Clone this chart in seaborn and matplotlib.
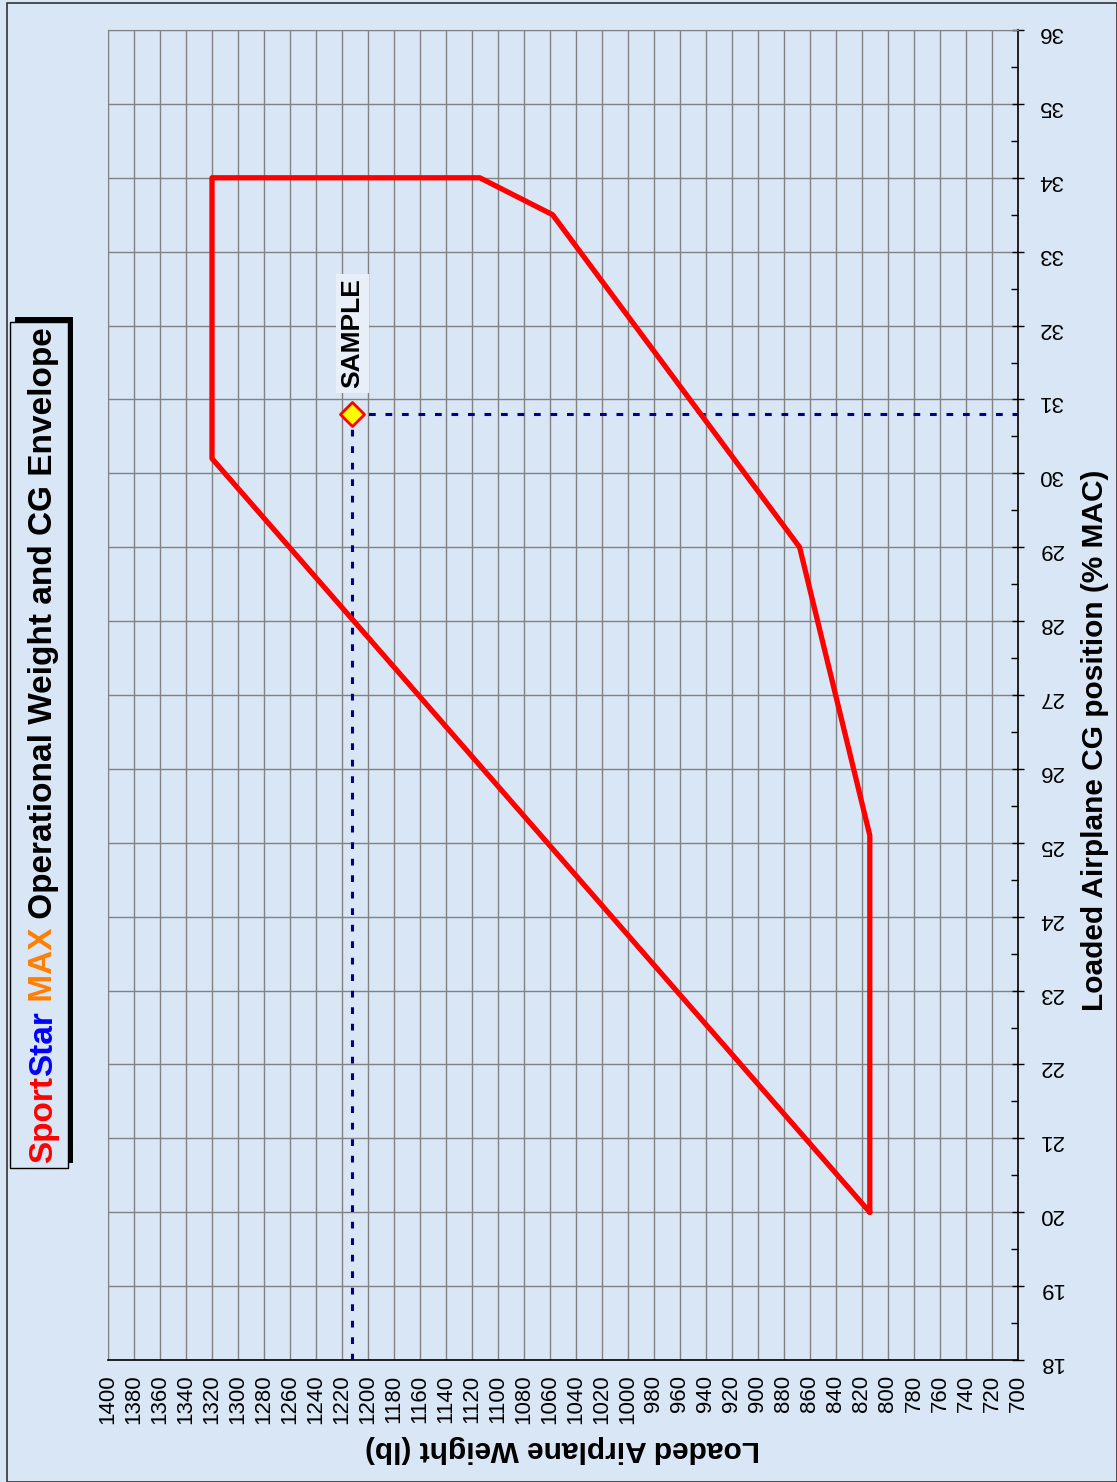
# SportStar MAX weight and CG envelope (chart drawn rotated, like the printed sheet)

import matplotlib
matplotlib.use("Agg")
import matplotlib.pyplot as plt
import matplotlib.patches as patches
from matplotlib.ticker import MultipleLocator
import seaborn as sns
import pandas as pd

# envelope corners: loaded weight (lb) and CG (% MAC)
env_weight = [814, 814, 868, 1058, 1114, 1320, 1320, 814]
env_cg = [20.0, 25.1, 29.0, 33.5, 34.0, 34.0, 30.2, 20.0]

# sample loading point
sample_weight = 1212
sample_cg = 30.8

weight_ticks = list(range(700, 1401, 20))
cg_ticks = list(range(18, 37))

title_parts = ["Sport", "Star", " MAX", " Operational Weight and CG Envelope"]
title_colors = ["#ff0000", "#0000ff", "#ff7f00", "#000000"]

bg = "#d9e6f5"
grid_col = "#828282"

sns.set_style("white")
plt.rcParams["font.family"] = ["Liberation Sans", "DejaVu Sans"]
plt.rcParams["text.color"] = "black"
plt.rcParams["axes.labelcolor"] = "black"
plt.rcParams["xtick.color"] = "black"
plt.rcParams["ytick.color"] = "black"

W, H = 1117, 1482
fig = plt.figure(figsize=(W / 100, H / 100), dpi=100, facecolor=bg)
ax = fig.add_axes([108 / W, 1 - 1360 / H, 910 / W, 1330 / H])
ax.set_facecolor(bg)

env = pd.DataFrame({"weight": env_weight, "cg": env_cg})
sns.lineplot(data=env, x="weight", y="cg", sort=False, estimator=None,
             color="#ff0000", linewidth=3.8, ax=ax, zorder=4)

# dotted guide lines from the sample point to both axes
ax.plot([sample_weight, sample_weight], [18, sample_cg], color="#000080",
        linewidth=2.2, dashes=(2.2, 3.2), zorder=3)
ax.plot([sample_weight, 700], [sample_cg, sample_cg], color="#000080",
        linewidth=2.2, dashes=(2.2, 3.2), zorder=3)
sns.scatterplot(x=[sample_weight], y=[sample_cg], marker="D", s=150,
                color="#ffff00", edgecolor="#ff0000", linewidth=2, ax=ax, zorder=5)
ax.text(sample_weight, sample_cg + 0.35, "SAMPLE", rotation=90, ha="center", va="bottom",
        fontsize=19, fontweight="bold", color="black",
        bbox=dict(facecolor="#e8eff8", edgecolor="none", pad=3), zorder=4)

ax.set_xlim(1400, 700)
ax.set_ylim(18, 36)
ax.set_xticks(weight_ticks)
ax.set_xticklabels([str(w) for w in weight_ticks], rotation=90, fontsize=16)
ax.xaxis.set_minor_locator(MultipleLocator(10))
ax.yaxis.tick_right()
ax.set_yticks(cg_ticks)
ax.set_yticklabels([str(c) for c in cg_ticks], rotation=180, fontsize=16)
ax.yaxis.set_minor_locator(MultipleLocator(0.5))
ax.tick_params(which="major", direction="inout", length=9, width=1, color="black")
ax.tick_params(which="minor", direction="in", length=5, width=1, color="black")
ax.tick_params(axis="x", which="both", top=False, pad=6)
ax.tick_params(axis="y", which="both", left=False, right=True, pad=10)
ax.grid(True, which="major", color=grid_col, linewidth=1)

for s in ["top", "left"]:
    ax.spines[s].set_color(grid_col)
for s in ["bottom", "right"]:
    ax.spines[s].set_color("black")
    ax.spines[s].set_linewidth(1.2)

ax.set_xlabel("Loaded Airplane Weight (lb)", rotation=180, fontsize=21.5,
              fontweight="bold", labelpad=8)
ax.yaxis.set_label_position("right")
ax.set_ylabel("Loaded Airplane CG position (% MAC)", rotation=90, fontsize=21.5,
              fontweight="bold", va="center")
ax.yaxis.set_label_coords(1.085, 0.466)

# title box with shadow
fig.patches.append(patches.Rectangle((15 / W, 1 - 1163 / H), 58 / W, 846 / H,
                                     transform=fig.transFigure, facecolor="black",
                                     edgecolor="none", zorder=1))
fig.patches.append(patches.Rectangle((10 / W, 1 - 1168 / H), 58 / W, 846 / H,
                                     transform=fig.transFigure, facecolor=bg,
                                     edgecolor="black", linewidth=1, zorder=2))
# outer frame
fig.patches.append(patches.Rectangle((7 / W, 0), 1 - 7 / W, 1 - 3 / H,
                                     transform=fig.transFigure, facecolor="none",
                                     edgecolor="#333333", linewidth=1.2, zorder=2))

fig.canvas.draw()
renderer = fig.canvas.get_renderer()
y_pos = 1 - 1163 / H
for part, col in zip(title_parts, title_colors):
    t = fig.text(52 / W, y_pos, part, rotation=90, rotation_mode="anchor",
                 ha="left", va="baseline", color=col, fontsize=24,
                 fontweight="bold", zorder=3)
    ext = t.get_window_extent(renderer)
    y_pos += ext.height / H

fig.savefig("out.png", dpi=100, facecolor=bg)
